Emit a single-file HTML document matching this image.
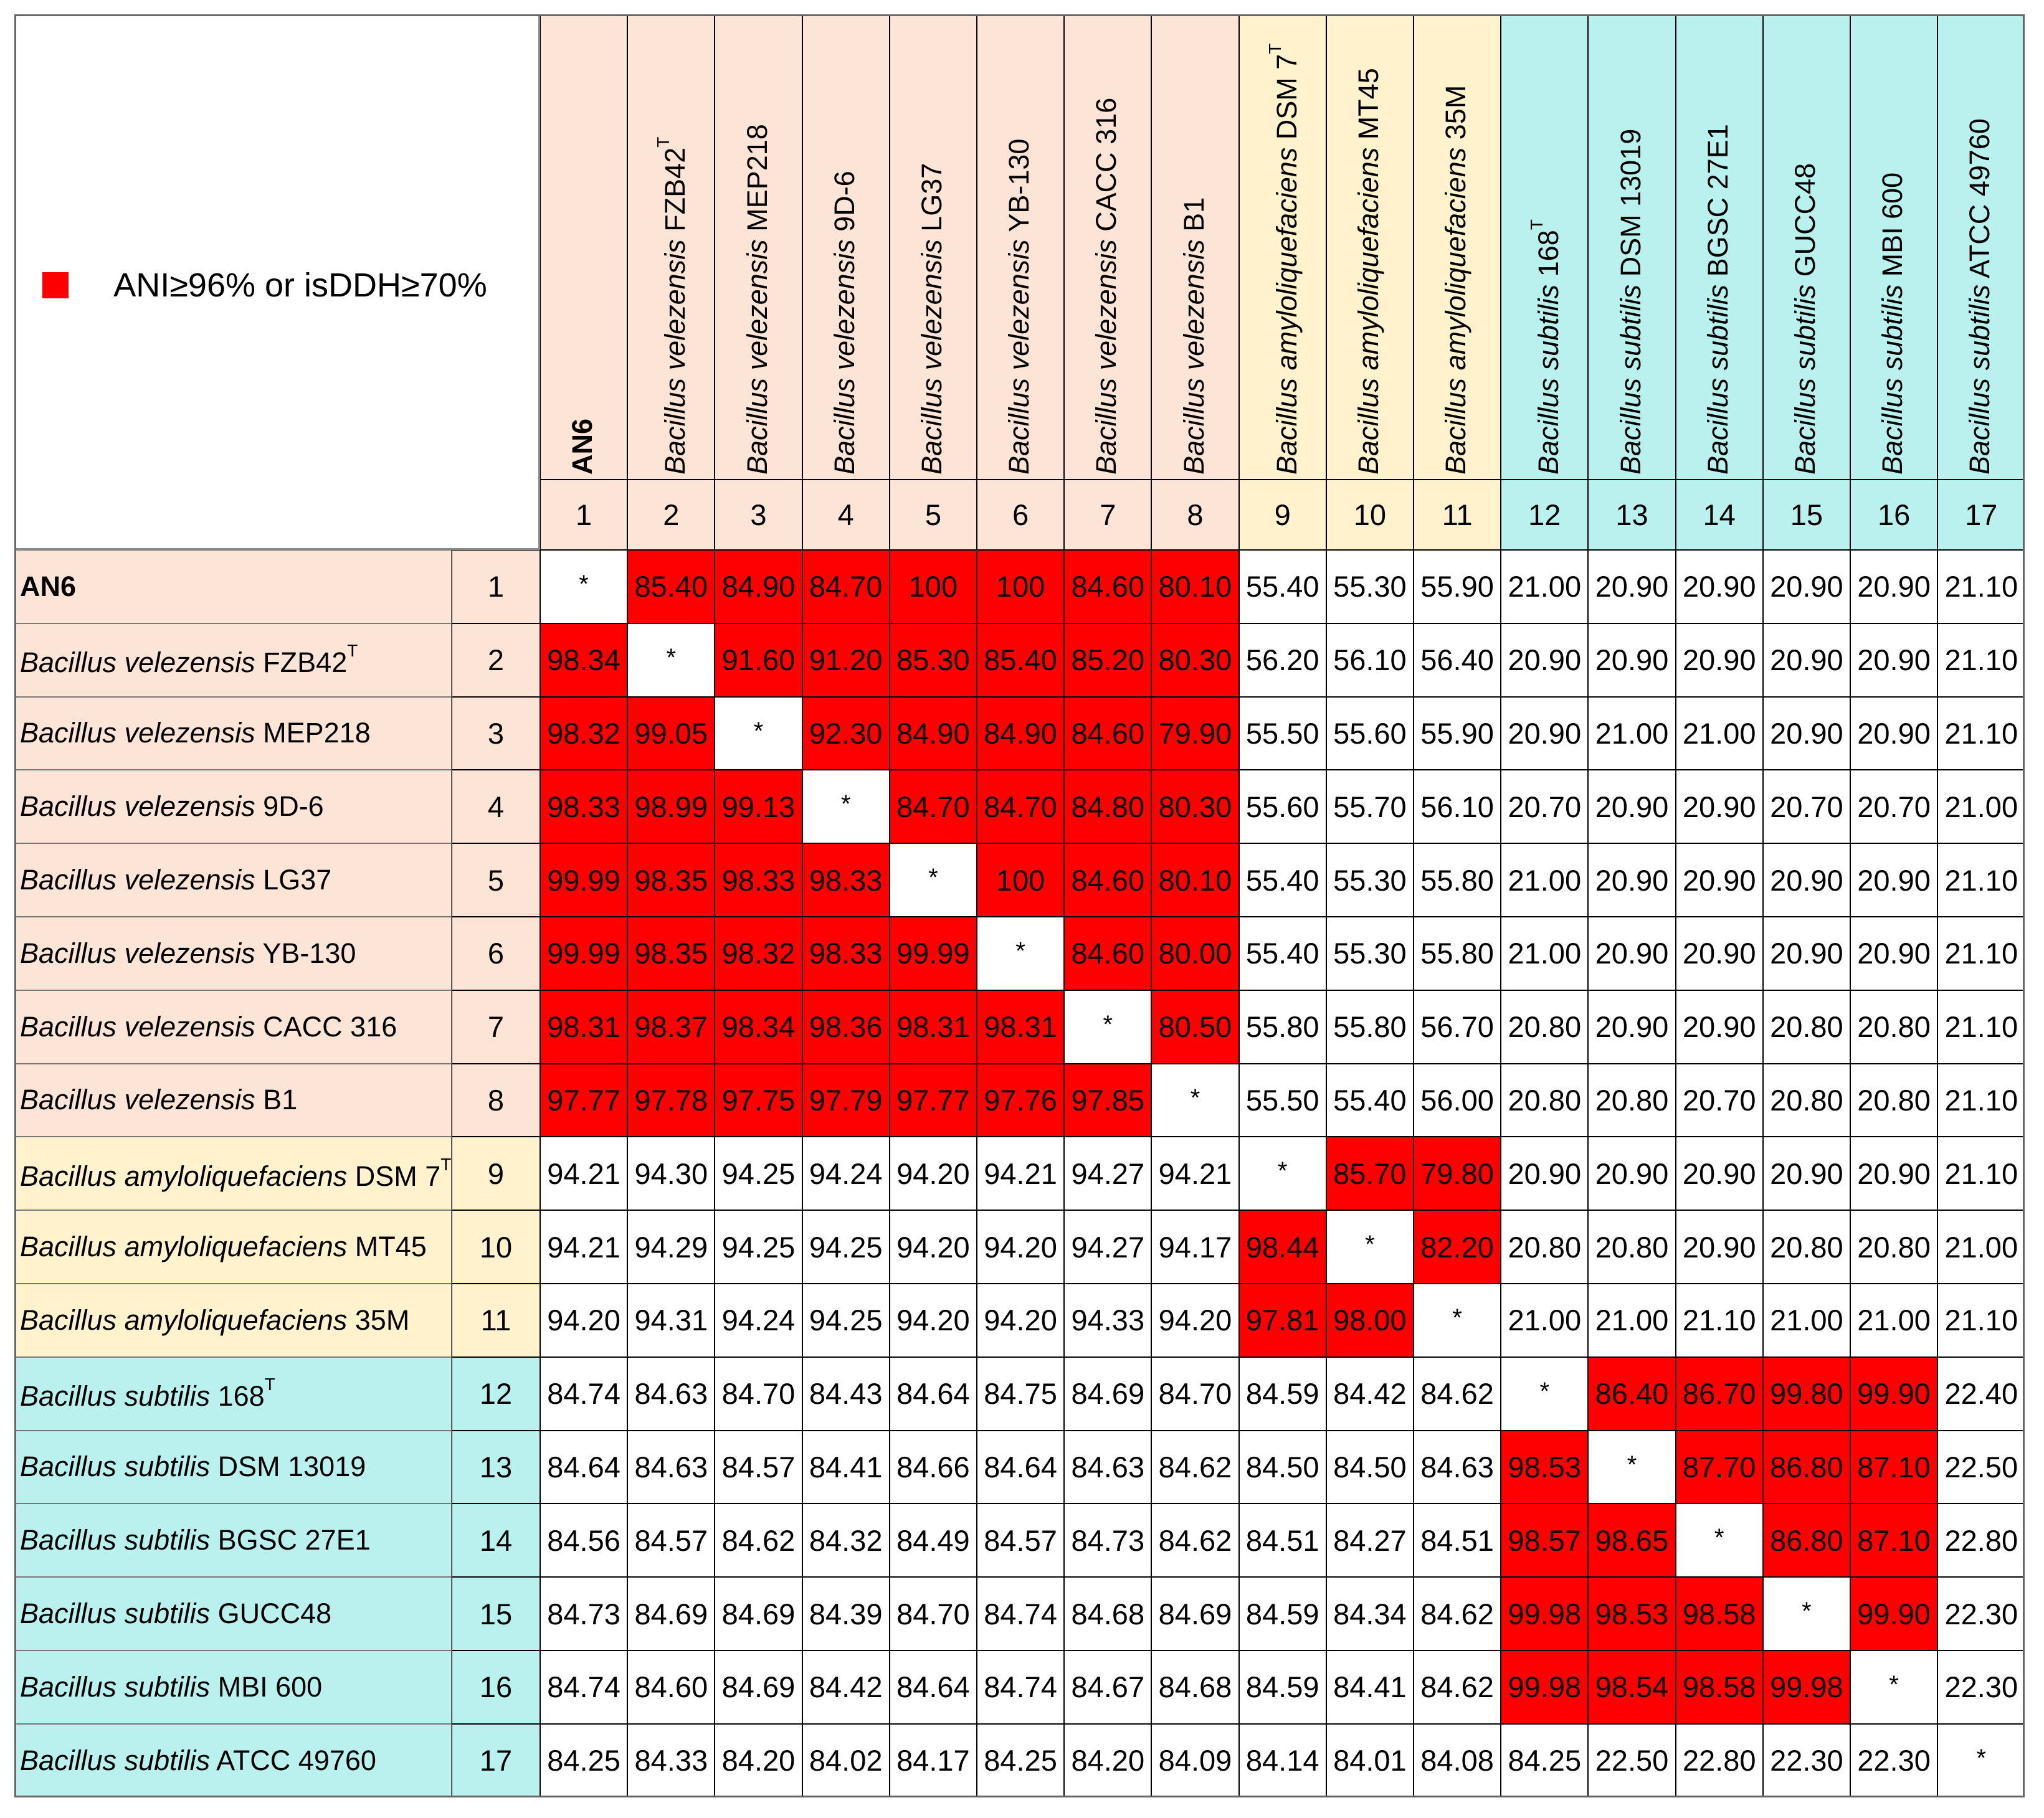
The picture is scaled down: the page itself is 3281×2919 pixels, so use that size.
<!DOCTYPE html>
<html><head><meta charset="utf-8"><style>
body{margin:0;background:#fff;width:3281px;height:2919px;position:relative;overflow:hidden;font-family:"Liberation Sans",sans-serif;}
.c{position:absolute;box-sizing:border-box;display:flex;align-items:center;justify-content:center;font-size:47px;color:#000;}
.l{justify-content:flex-start;padding-left:8px;font-size:45px;}
.rot{position:absolute;transform-origin:0 0;transform:rotate(-90deg);white-space:nowrap;font-size:45px;}
.nw{white-space:nowrap;}
sup{font-size:28px;vertical-align:0.9em;}
</style></head><body>
<div id="root"></div>
<script>
const species=["","Bacillus velezensis","Bacillus velezensis","Bacillus velezensis","Bacillus velezensis","Bacillus velezensis","Bacillus velezensis","Bacillus velezensis","Bacillus amyloliquefaciens","Bacillus amyloliquefaciens","Bacillus amyloliquefaciens","Bacillus subtilis","Bacillus subtilis","Bacillus subtilis","Bacillus subtilis","Bacillus subtilis","Bacillus subtilis"];
const strains=["AN6","FZB42","MEP218","9D-6","LG37","YB-130","CACC 316","B1","DSM 7","MT45","35M","168","DSM 13019","BGSC 27E1","GUCC48","MBI 600","ATCC 49760"];
const typeStrain=[0,1,0,0,0,0,0,0,1,0,0,1,0,0,0,0,0];
const groups=[0,0,0,0,0,0,0,0,1,1,1,2,2,2,2,2,2];
const values=[
"*,85.40,84.90,84.70,100,100,84.60,80.10,55.40,55.30,55.90,21.00,20.90,20.90,20.90,20.90,21.10",
"98.34,*,91.60,91.20,85.30,85.40,85.20,80.30,56.20,56.10,56.40,20.90,20.90,20.90,20.90,20.90,21.10",
"98.32,99.05,*,92.30,84.90,84.90,84.60,79.90,55.50,55.60,55.90,20.90,21.00,21.00,20.90,20.90,21.10",
"98.33,98.99,99.13,*,84.70,84.70,84.80,80.30,55.60,55.70,56.10,20.70,20.90,20.90,20.70,20.70,21.00",
"99.99,98.35,98.33,98.33,*,100,84.60,80.10,55.40,55.30,55.80,21.00,20.90,20.90,20.90,20.90,21.10",
"99.99,98.35,98.32,98.33,99.99,*,84.60,80.00,55.40,55.30,55.80,21.00,20.90,20.90,20.90,20.90,21.10",
"98.31,98.37,98.34,98.36,98.31,98.31,*,80.50,55.80,55.80,56.70,20.80,20.90,20.90,20.80,20.80,21.10",
"97.77,97.78,97.75,97.79,97.77,97.76,97.85,*,55.50,55.40,56.00,20.80,20.80,20.70,20.80,20.80,21.10",
"94.21,94.30,94.25,94.24,94.20,94.21,94.27,94.21,*,85.70,79.80,20.90,20.90,20.90,20.90,20.90,21.10",
"94.21,94.29,94.25,94.25,94.20,94.20,94.27,94.17,98.44,*,82.20,20.80,20.80,20.90,20.80,20.80,21.00",
"94.20,94.31,94.24,94.25,94.20,94.20,94.33,94.20,97.81,98.00,*,21.00,21.00,21.10,21.00,21.00,21.10",
"84.74,84.63,84.70,84.43,84.64,84.75,84.69,84.70,84.59,84.42,84.62,*,86.40,86.70,99.80,99.90,22.40",
"84.64,84.63,84.57,84.41,84.66,84.64,84.63,84.62,84.50,84.50,84.63,98.53,*,87.70,86.80,87.10,22.50",
"84.56,84.57,84.62,84.32,84.49,84.57,84.73,84.62,84.51,84.27,84.51,98.57,98.65,*,86.80,87.10,22.80",
"84.73,84.69,84.69,84.39,84.70,84.74,84.68,84.69,84.59,84.34,84.62,99.98,98.53,98.58,*,99.90,22.30",
"84.74,84.60,84.69,84.42,84.64,84.74,84.67,84.68,84.59,84.41,84.62,99.98,98.54,98.58,99.98,*,22.30",
"84.25,84.33,84.20,84.02,84.17,84.25,84.20,84.09,84.14,84.01,84.08,84.25,22.50,22.80,22.30,22.30,*"];
const groupColors=["#fce4d6","#fff2cc","#b9f1ee"];
const L=23,T=23,NUMX=725,X0=867,CW=140.2,HNUM=770,Y0=883,RH=117.8,N=17;
const root=document.getElementById('root');
function box(x,y,w,h,bg,b){const d=document.createElement('div');d.className='c';d.style.left=x+'px';d.style.top=y+'px';d.style.width=w+'px';d.style.height=h+'px';if(bg)d.style.background=bg;if(b)d.style.border=b;root.appendChild(d);return d;}
function label(k){return k===0?'<b>AN6</b>':'<i>'+species[k]+'</i> '+strains[k]+(typeStrain[k]?'<sup>T</sup>':'');}
const hw=box(L,T,X0-L,Y0-T,'#fff','3px solid #888');


hw.innerHTML='<span style="display:inline-block;width:42px;height:42px;background:#f00;margin-right:72px"></span><span class="nw" style="font-size:54px">ANI≥96% or isDDH≥70%</span>';
hw.style.paddingRight='40px';hw.style.paddingTop='10px';
for(let j=0;j<N;j++){
  const x=X0+j*CW;
  const h=box(x,T,CW,HNUM-T,groupColors[groups[j]],'1.5px solid #000');
  
  
  const r=document.createElement('div');r.className='rot';
  r.style.left=(x+CW/2-28)+'px';r.style.top=(HNUM-8)+'px';
  r.innerHTML=label(j);
  
  
  root.appendChild(r);
  const nb=box(x,HNUM,CW,Y0-HNUM,groupColors[groups[j]],'1.5px solid #000');
  nb.textContent=j+1;
  
  
}
for(let i=0;i<N;i++){
  const y=Y0+i*RH,row=values[i].split(',');
  const lb=box(L,y,NUMX-L,RH,groupColors[groups[i]],'1.5px solid #777');
  lb.classList.add('l');
  lb.innerHTML='<span class="nw">'+label(i)+'</span>';
  
  
  const nb=box(NUMX,y,X0-NUMX,RH,groupColors[groups[i]],'1.5px solid #000');
  nb.textContent=i+1;
  
  
  for(let j=0;j<N;j++){
    const v=row[j];let red=false;
    if(v!=='*'){const n=parseFloat(v);red=j>i?n>=70:n>=96;}
    const c=box(X0+j*CW,y,CW,RH,red?'#ff0000':'#fff','1.5px solid #000');
    c.textContent=v;
    if(v==='*'){c.style.alignItems='flex-start';c.style.paddingTop='32px';c.style.fontSize='40px';}
    
    
  }
}
const ob=box(L,T,X0+N*CW-L,Y0+N*RH-T,null,'3px solid #666');
ob.style.pointerEvents='none';


</script>
</body></html>
